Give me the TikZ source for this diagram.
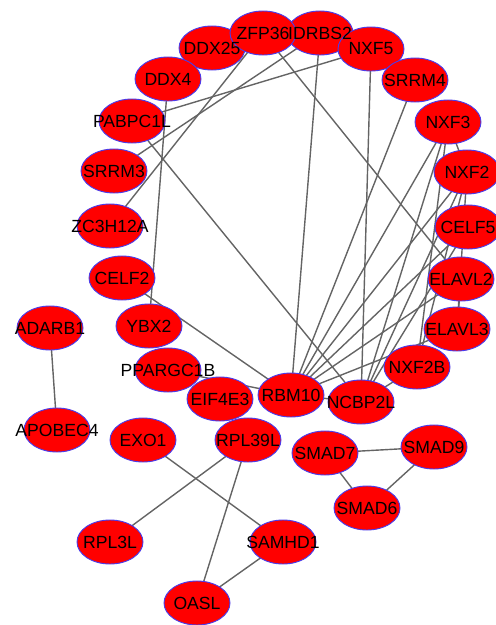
\documentclass[tikz,border=0pt]{standalone}
\usepackage{fontspec}
\setmainfont{Liberation Sans}
\usetikzlibrary{shapes.geometric,backgrounds}
\definecolor{nodered}{RGB}{255,0,0}
\definecolor{nodeborder}{RGB}{75,60,235}
\definecolor{edgegray}{RGB}{100,100,100}
\begin{document}
\begin{tikzpicture}[x=0.75pt,y=-0.75pt,
  gene/.style={ellipse,draw=nodeborder,fill=nodered,line width=0.7pt,
    minimum width=49.5pt,minimum height=33pt,inner sep=0pt},
  genetext/.style={inner sep=0pt,font=\fontsize{13.2pt}{14pt}\selectfont,text=black},
  link/.style={draw=edgegray,line width=1.05pt}]
\useasboundingbox (0,0) rectangle (496,625);
% ellipses
\node[gene] (DDX25)   at (212,48)  {};
\node[gene] (IDRBS2)  at (320,33)  {};
\node[gene] (ZFP36)   at (263,33)  {};
\node[gene] (NXF5)    at (371,49)  {};
\node[gene] (DDX4)    at (168,79)  {};
\node[gene] (SRRM4)   at (415,80)  {};
\node[gene] (PABPC1L) at (132,121) {};
\node[gene] (NXF3)    at (448,122) {};
\node[gene] (SRRM3)   at (114,171) {};
\node[gene] (NXF2)    at (467,172) {};
\node[gene] (ZC3H12A) at (110,226) {};
\node[gene] (CELF5)   at (468,227) {};
\node[gene] (CELF2)   at (122,278) {};
\node[gene] (ELAVL2)  at (461,279) {};
\node[gene] (YBX2)    at (149,326) {};
\node[gene] (ELAVL3)  at (457,329) {};
\node[gene] (PPARGC1B) at (168,370) {};
\node[gene] (NXF2B)   at (417,367) {};
\node[gene] (EIF4E3)  at (220,399) {};
\node[gene] (RBM10)   at (291,395) {};
\node[gene] (NCBP2L)  at (361,402) {};
\node[gene] (ADARB1)  at (50,328)  {};
\node[gene] (APOBEC4) at (57,430)  {};
\node[gene] (EXO1)    at (143,440) {};
\node[gene] (RPL39L)  at (248,440) {};
\node[gene] (SMAD7)   at (325,453) {};
\node[gene] (SMAD9)   at (434,447) {};
\node[gene] (SMAD6)   at (367,508) {};
\node[gene] (RPL3L)   at (110,542) {};
\node[gene] (SAMHD1)  at (283,542) {};
\node[gene] (OASL)    at (197,603) {};
% labels on top of all ellipses
\node[genetext] (tDDX25)   at (DDX25)   {DDX25};
\node[genetext] (tIDRBS2)  at (IDRBS2)  {IDRBS2};
\node[genetext] (tZFP36)   at (ZFP36)   {ZFP36};
\node[genetext] (tNXF5)    at (NXF5)    {NXF5};
\node[genetext] (tDDX4)    at (DDX4)    {DDX4};
\node[genetext] (tSRRM4)   at (SRRM4)   {SRRM4};
\node[genetext] (tPABPC1L) at (PABPC1L) {PABPC1L};
\node[genetext] (tNXF3)    at (NXF3)    {NXF3};
\node[genetext] (tSRRM3)   at (SRRM3)   {SRRM3};
\node[genetext] (tNXF2)    at (NXF2)    {NXF2};
\node[genetext] (tZC3H12A) at (ZC3H12A) {ZC3H12A};
\node[genetext] (tCELF5)   at (CELF5)   {CELF5};
\node[genetext] (tCELF2)   at (CELF2)   {CELF2};
\node[genetext] (tELAVL2)  at (ELAVL2)  {ELAVL2};
\node[genetext] (tYBX2)    at (YBX2)    {YBX2};
\node[genetext] (tELAVL3)  at (ELAVL3)  {ELAVL3};
\node[genetext] (tPPARGC1B) at (PPARGC1B) {PPARGC1B};
\node[genetext] (tNXF2B)   at (NXF2B)   {NXF2B};
\node[genetext] (tEIF4E3)  at (EIF4E3)  {EIF4E3};
\node[genetext] (tRBM10)   at (RBM10)   {RBM10};
\node[genetext] (tNCBP2L)  at (NCBP2L)  {NCBP2L};
\node[genetext] (tADARB1)  at (ADARB1)  {ADARB1};
\node[genetext] (tAPOBEC4) at (APOBEC4) {APOBEC4};
\node[genetext] (tEXO1)    at (EXO1)    {EXO1};
\node[genetext] (tRPL39L)  at (RPL39L)  {RPL39L};
\node[genetext] (tSMAD7)   at (SMAD7)   {SMAD7};
\node[genetext] (tSMAD9)   at (SMAD9)   {SMAD9};
\node[genetext] (tSMAD6)   at (SMAD6)   {SMAD6};
\node[genetext] (tRPL3L)   at (RPL3L)   {RPL3L};
\node[genetext] (tSAMHD1)  at (SAMHD1)  {SAMHD1};
\node[genetext] (tOASL)    at (OASL)    {OASL};
\begin{pgfonlayer}{background}
\draw[link] (ZFP36.center) -- (ZC3H12A.center);
\draw[link] (IDRBS2.center) -- (SRRM3.center);
\draw[link] (ZFP36.center) -- (ELAVL2.center);
\draw[link] (PABPC1L.center) -- (NXF5.center);
\draw[link] (PABPC1L.center) -- (NCBP2L.center);
\draw[link] (DDX4.center) -- (YBX2.center);
\draw[link] (CELF2.center) -- (RBM10.center);
\draw[link] (IDRBS2.center) -- (RBM10.center);
\draw[link] (NXF5.center) -- (NCBP2L.center);
\draw[link] (PPARGC1B.center) -- (RBM10.center);
\draw[link] (RBM10.center) -- (NCBP2L.center);
\draw[link] (SRRM4.center) -- (RBM10.center);
\draw[link] (NXF3.center) -- (RBM10.center);
\draw[link] (NXF3.center) -- (NCBP2L.center);
\draw[link] (NXF3.center) -- (NXF2B.center);
\draw[link] (NXF3.center) -- (NXF2.center);
\draw[link] (NXF2.center) -- (RBM10.center);
\draw[link] (NXF2.center) -- (NCBP2L.center);
\draw[link] (NXF2.center) -- (NXF2B.center);
\draw[link] (NXF2.center) -- (ELAVL3.center);
\draw[link] (CELF5.center) -- (RBM10.center);
\draw[link] (CELF5.center) -- (NCBP2L.center);
\draw[link] (ELAVL2.center) -- (RBM10.center);
\draw[link] (ELAVL2.center) -- (ELAVL3.center);
\draw[link] (ELAVL3.center) -- (RBM10.center);
\draw[link] (NXF2B.center) -- (NCBP2L.center);
\draw[link] (ADARB1.center) -- (APOBEC4.center);
\draw[link] (EXO1.center) -- (SAMHD1.center);
\draw[link] (RPL39L.center) -- (RPL3L.center);
\draw[link] (RPL39L.center) -- (OASL.center);
\draw[link] (SAMHD1.center) -- (OASL.center);
\draw[link] (SMAD7.center) -- (SMAD9.center);
\draw[link] (SMAD7.center) -- (SMAD6.center);
\draw[link] (SMAD9.center) -- (SMAD6.center);
\end{pgfonlayer}
\end{tikzpicture}
\end{document}
